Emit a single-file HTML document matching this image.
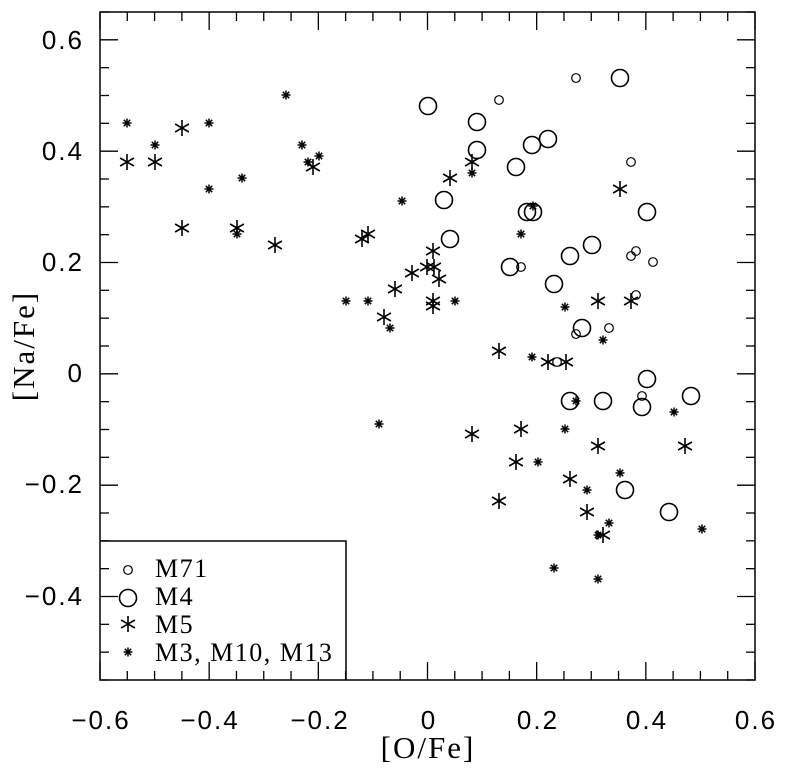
<!DOCTYPE html>
<html><head><meta charset="utf-8"><style>
html,body{margin:0;padding:0;background:#fff;width:787px;height:770px;overflow:hidden}
text{font-family:"Liberation Sans",sans-serif;fill:#000}
.sr{font-family:"Liberation Serif",serif}
</style></head><body>
<svg id="s" width="787" height="770" xmlns="http://www.w3.org/2000/svg">
<defs>
<g id="bc"><circle r="8.5" fill="none" stroke="#000" stroke-width="1.6"/></g>
<g id="sc"><circle r="4.3" fill="none" stroke="#000" stroke-width="1.2"/></g>
<g id="ba" stroke="#000" stroke-width="1.6"><line x1="0" y1="-8" x2="0" y2="8"/><line x1="-6.9" y1="-4" x2="6.9" y2="4"/><line x1="-6.9" y1="4" x2="6.9" y2="-4"/></g>
<g id="sa" stroke="#000" stroke-width="1.5"><line x1="0" y1="-4.5" x2="0" y2="4.5"/><line x1="-4.5" y1="0" x2="4.5" y2="0"/><line x1="-3.2" y1="-3.2" x2="3.2" y2="3.2"/><line x1="-3.2" y1="3.2" x2="3.2" y2="-3.2"/></g>
</defs>
<rect x="100" y="12" width="655" height="668" fill="none" stroke="#000" stroke-width="1.5"/>
<g id="ticks" stroke="#000" stroke-width="1.3"></g>
<g id="pts"></g>
<path d="M100 541 H346 V680" fill="none" stroke="#000" stroke-width="1.5"/>
<g font-size="26" class="sr" style="letter-spacing:1.5px">
<text class="sr" x="155" y="577">M71</text>
<text class="sr" x="155" y="605">M4</text>
<text class="sr" x="155" y="633">M5</text>
<text class="sr" x="155" y="661">M3, M10, M13</text>
</g>
<g font-size="26" text-anchor="end" style="letter-spacing:2px">
<text x="84" y="49">0.6</text>
<text x="84" y="160">0.4</text>
<text x="84" y="271">0.2</text>
<text x="84" y="382">0</text>
<text x="84" y="493">−0.2</text>
<text x="84" y="605">−0.4</text>
</g>
<g font-size="26" text-anchor="middle" style="letter-spacing:2px">
<text x="101" y="729">−0.6</text>
<text x="210" y="729">−0.4</text>
<text x="320" y="729">−0.2</text>
<text x="429" y="729">0</text>
<text x="538" y="729">0.2</text>
<text x="647" y="729">0.4</text>
<text x="756" y="729">0.6</text>
</g>
<text class="sr" x="428" y="758" font-size="31" text-anchor="middle" style="letter-spacing:2px">[O/Fe]</text>
<text class="sr" transform="translate(34,346) rotate(-90)" font-size="31" text-anchor="middle" style="letter-spacing:2px">[Na/Fe]</text>
</svg>
<script>
var t=document.getElementById("ticks"),h="";
for(var i=0;i<=24;i++){var x=100+i*655/24,L=(i%4==0)?18:9;
h+='<line x1="'+x+'" y1="680" x2="'+x+'" y2="'+(680-L)+'"/><line x1="'+x+'" y1="12" x2="'+x+'" y2="'+(12+L)+'"/>';}
for(var j=0;j<=24;j++){var y=12+j*668/24,v=Math.round((0.65-j*0.05)*100);var L=(Math.abs(v)%20==0)?18:9;
h+='<line x1="100" y1="'+y+'" x2="'+(100+L)+'" y2="'+y+'"/><line x1="755" y1="'+y+'" x2="'+(755-L)+'" y2="'+y+'"/>';}
t.innerHTML=h;
var P={
bc:[[620,78],[428,106],[477,122],[477,150],[532,145],[548,139],[516,167],[444,200],[527,212],[533,212],[450,239],[510,267],[570,256],[592,245],[647,212],[554,284],[582,328],[647,379],[691,396],[570,401],[603,401],[642,407],[625,490],[669,512],[128,598]],
sc:[[576,78],[499,100],[631,162],[521,267],[631,256],[636,251],[653,262],[636,295],[576,334],[609,328],[642,396],[557,362],[128,570]],
ba:[[472,162],[620,189],[450,178],[433,251],[427,267],[434,267],[412,273],[439,279],[433,301],[433,306],[598,301],[631,301],[499,351],[548,362],[566,362],[472,434],[521,429],[598,446],[685,446],[516,462],[570,479],[499,501],[587,512],[603,535],[127,162],[155,162],[182,128],[182,228],[237,228],[275,245],[313,167],[362,239],[368,234],[395,289],[384,317],[128,624]],
sa:[[472,173],[402,201],[533,206],[521,234],[455,301],[565,307],[603,340],[532,357],[576,401],[674,412],[565,429],[538,462],[587,490],[620,473],[609,523],[598,535],[702,529],[554,568],[598,579],[127,123],[155,145],[209,123],[209,189],[242,178],[237,234],[286,95],[302,145],[308,162],[319,156],[346,301],[368,301],[390,328],[379,424],[128,652]]};
var g="";for(var k in P)P[k].forEach(function(p){g+='<use href="#'+k+'" x="'+p[0]+'" y="'+p[1]+'"/>';});
document.getElementById("pts").innerHTML=g;
</script>
</body></html>
